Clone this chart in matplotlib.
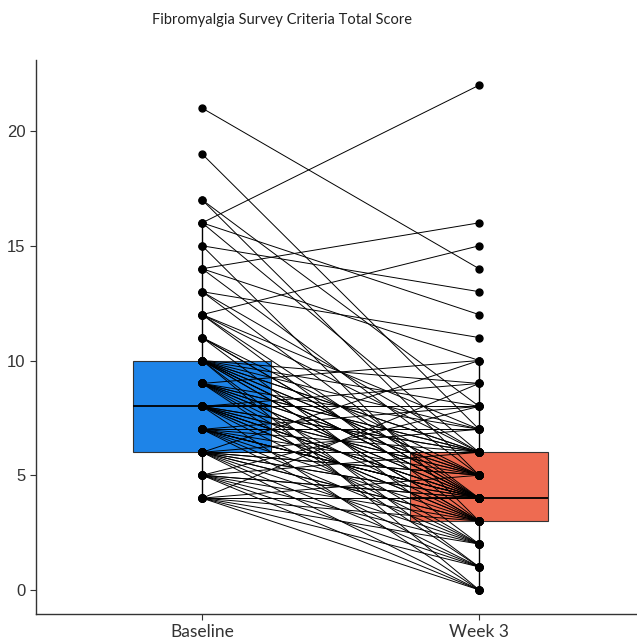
import numpy as np
import matplotlib
matplotlib.use("Agg")
import matplotlib.pyplot as plt

# paired scores, one entry per subject (baseline -> week 3)
baseline = [4, 4, 4, 4, 4, 4, 4,
            5, 5, 5, 5, 5, 5, 5, 5,
            6, 6, 6, 6, 6, 6, 6, 6, 6, 6, 6, 6,
            7, 7, 7, 7, 7, 7, 7, 7, 7, 7, 7,
            8, 8, 8, 8, 8, 8, 8, 8, 8, 8, 8, 8, 8,
            9, 9, 9, 9, 9, 9, 9, 9, 9, 9, 9,
            10, 10, 10, 10, 10, 10, 10, 10, 10, 10, 10, 10, 10, 10,
            11, 11, 11, 11,
            12, 12, 12, 12, 12,
            13, 13, 13,
            14, 14, 14,
            15, 15,
            16, 16, 16,
            17, 17,
            19,
            21]
week3 = [0, 1, 2, 3, 4, 5, 9,
         0, 1, 2, 3, 4, 4, 6, 8,
         0, 1, 2, 3, 3, 4, 4, 5, 5, 6, 7, 10,
         1, 2, 3, 4, 4, 4, 4, 5, 6, 7, 8,
         0, 2, 3, 3, 4, 4, 4, 5, 5, 6, 6, 8, 9,
         1, 2, 3, 4, 4, 5, 5, 6, 6, 7, 10,
         0, 1, 3, 3, 4, 4, 4, 5, 5, 6, 6, 7, 8, 9,
         2, 4, 5, 4,
         3, 4, 6, 15, 7,
         4, 6, 11,
         16, 5, 10,
         13, 3,
         22, 12, 6,
         5, 8,
         7,
         14]
groups = ["Baseline", "Week 3"]
box_colors = ["#1e84e8", "#ee6b51"]
title = "Fibromyalgia Survey Criteria Total Score"

fig = plt.figure(figsize=(6.37, 6.42), dpi=100)
ax = fig.add_axes([0.0565, 0.0436, 0.9435, 0.863])

pos = [1, 2]
bp = ax.boxplot([baseline, week3], positions=pos, widths=0.5, whis=1.5,
                patch_artist=True, showfliers=False, showcaps=False,
                medianprops=dict(color="black", linewidth=1.3),
                whiskerprops=dict(color="black", linewidth=1.0),
                boxprops=dict(edgecolor="#333333", linewidth=0.8),
                zorder=1)
for patch, c in zip(bp["boxes"], box_colors):
    patch.set_facecolor(c)

# one line per subject
for b, w in zip(baseline, week3):
    ax.plot(pos, [b, w], color="black", linewidth=0.7, zorder=3)
ax.plot([1] * len(baseline), baseline, "o", color="black", markersize=5, zorder=4)
ax.plot([2] * len(week3), week3, "o", color="black", markersize=5, zorder=4)

ax.set_xlim(0.40, 2.57)
ax.set_ylim(-1.05, 23.1)
ax.set_xticks(pos)
ax.set_xticklabels(groups, fontsize=12.5, family="Lato", color="#222222")
ax.set_yticks([0, 5, 10, 15, 20])
ax.tick_params(axis="y", labelsize=12, colors="#333333", length=4)
ax.tick_params(axis="x", colors="#333333", length=4, pad=3)
for lab in ax.get_yticklabels():
    lab.set_family("Liberation Sans")
    lab.set_color("#333333")
ax.spines["top"].set_visible(False)
ax.spines["right"].set_visible(False)
for s in ("left", "bottom"):
    ax.spines[s].set_color("#333333")
    ax.spines[s].set_linewidth(1.0)

fig.text(0.443, 1 - 20 / 642, title, ha="center", va="center",
         fontsize=10.5, family="Lato", color="#222222")

fig.savefig("out.png", dpi=100)
